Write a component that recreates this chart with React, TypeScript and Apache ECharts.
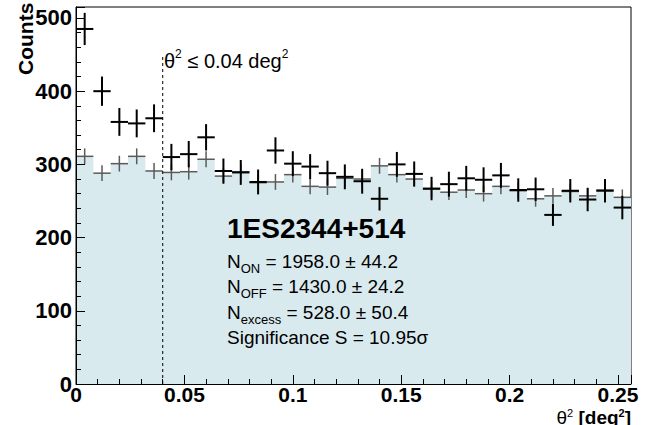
import React, { useEffect, useRef } from "react";
import * as echarts from "echarts";

// ---- data ----
const binCenters = [
  0.004, 0.012, 0.020, 0.028, 0.036, 0.044, 0.052, 0.060, 0.068, 0.076, 0.084,
  0.092, 0.100, 0.108, 0.116, 0.124, 0.132, 0.140, 0.148, 0.156, 0.164, 0.172,
  0.180, 0.188, 0.196, 0.204, 0.212, 0.220, 0.228, 0.236, 0.244, 0.252,
];
const binHalfWidth = 0.004;
const onCounts = [
  485, 400, 358, 356, 363, 310, 314, 337, 291, 289, 276, 319, 301, 297, 288, 283,
  277, 253, 300, 287, 267, 273, 281, 279, 285, 265, 266, 231, 264, 252, 264, 241,
];
const onErrors = [
  22, 20, 19, 19, 19, 18, 18, 18, 17, 17, 17, 18, 17, 17, 17, 17,
  17, 16, 17, 17, 16, 17, 17, 17, 17, 16, 16, 15, 16, 16, 16, 16,
];
const offCounts = [
  311, 288, 301, 311, 291, 289, 290, 307, 284, 290, 275, 276, 286, 270, 269, 281,
  280, 298, 286, 280, 266, 262, 265, 260, 270, 264, 253, 257, 263, 257, 265, 255,
];
const offErrors = [
  10.8, 10.8, 10.8, 10.8, 10.8, 10.8, 10.8, 10.8, 10.8, 10.8, 10.8, 10.8, 10.8, 10.8, 10.8, 10.8,
  10.8, 10.8, 10.8, 10.8, 10.8, 10.8, 10.8, 10.8, 10.8, 10.8, 10.8, 10.8, 10.8, 10.8, 10.8, 10.8,
];
const xTickLabels = ["0", "0.05", "0.1", "0.15", "0.2", "0.25"];
const yTickLabels = ["0", "100", "200", "300", "400", "500"];
const cutValue = 0.04;
const cutLineTop = 449;
const sourceName = "1ES2344+514";
const statLines = [
  { sym: "N", sub: "ON", rest: " = 1958.0 ± 44.2" },
  { sym: "N", sub: "OFF", rest: " = 1430.0 ± 24.2" },
  { sym: "N", sub: "excess", rest: " = 528.0 ± 50.4" },
];
const significanceText = "Significance S = 10.95σ";

const TICK_FONT = "'Liberation Sans Narrow', 'Liberation Sans', Arial, sans-serif";
const TEXT_FONT = "'Liberation Sans', Arial, Helvetica, sans-serif";
const FILL = "#d9eaef";

function crossRenderer(color: string, width: number) {
  return (params: any, api: any) => {
    const c = api.value(0);
    const v = api.value(1);
    const e = api.value(2);
    const l = api.coord([c - binHalfWidth, v]);
    const r = api.coord([c + binHalfWidth, v]);
    const t = api.coord([c, v + e]);
    const b = api.coord([c, v - e]);
    return {
      type: "group",
      children: [
        { type: "line", shape: { x1: l[0], y1: l[1], x2: r[0], y2: r[1] }, style: { stroke: color, lineWidth: width } },
        { type: "line", shape: { x1: t[0], y1: t[1], x2: b[0], y2: b[1] }, style: { stroke: color, lineWidth: width } },
      ],
    };
  };
}

export default function App() {
  const ref = useRef<HTMLDivElement>(null);
  useEffect(() => {
    const chart = echarts.init(ref.current!, null, { renderer: "svg" });
    const statsRich = {
      m: { fontFamily: TEXT_FONT, fontSize: 19, lineHeight: 19, color: "#000" },
      s: { fontFamily: TEXT_FONT, fontSize: 13, lineHeight: 13, color: "#000", padding: [14, 0, 0, 0] },
    };
    const statGraphics: any[] = statLines.map((ln, i) => ({
      type: "text",
      x: 227,
      y: 261 + i * 25.5,
      z: 100,
      style: {
        text: `{m|${ln.sym}}{s|${ln.sub}}{m|${ln.rest}}`,
        rich: statsRich,
        verticalAlign: "middle",
        align: "left",
      },
      silent: true,
    }));
    const option: any = {
      animation: false,
      grid: { left: 76, top: 7, width: 555, height: 377, show: true, borderColor: "#000", borderWidth: 1, backgroundColor: "transparent" },
      xAxis: {
        type: "value",
        min: 0,
        max: 0.256,
        interval: 0.05,
        z: 10,
        axisLine: { show: true, onZero: false, lineStyle: { color: "#000", width: 1 } },
        axisTick: { show: true, inside: true, length: 9, lineStyle: { color: "#000", width: 1 } },
        minorTick: { show: true, splitNumber: 5, length: 5, lineStyle: { color: "#000", width: 1 } },
        splitLine: { show: false },
        axisLabel: {
          color: "#000",
          fontFamily: TICK_FONT,
          fontWeight: "bold",
          fontSize: 21,
          lineHeight: 14,
          margin: 3,
          showMaxLabel: false,
          formatter: (v: number) => {
            const idx = Math.round(v / 0.05);
            return Math.abs(v - idx * 0.05) < 1e-9 ? xTickLabels[idx] ?? "" : "";
          },
        },
      },
      yAxis: {
        type: "value",
        min: 0,
        max: 515,
        interval: 100,
        z: 10,
        axisLine: { show: true, onZero: false, lineStyle: { color: "#000", width: 1 } },
        axisTick: { show: true, inside: true, length: 9, lineStyle: { color: "#000", width: 1 } },
        minorTick: { show: true, splitNumber: 5, length: 5, lineStyle: { color: "#000", width: 1 } },
        splitLine: { show: false },
        axisLabel: {
          color: "#000",
          fontFamily: TICK_FONT,
          fontWeight: "bold",
          fontSize: 22,
          margin: 4,
          showMaxLabel: false,
          formatter: (v: number) => {
            const idx = Math.round(v / 100);
            return Math.abs(v - idx * 100) < 1e-9 ? yTickLabels[idx] ?? "" : "";
          },
        },
      },
      series: [
        {
          type: "custom",
          name: "OFF fill",
          silent: true,
          clip: true,
          data: [[0, 0]],
          encode: { x: 0, y: 1 },
          renderItem: (params: any, api: any) => {
            const pts: number[][] = [api.coord([binCenters[0] - binHalfWidth, 0])];
            binCenters.forEach((c, i) => {
              pts.push(api.coord([c - binHalfWidth, offCounts[i]]));
              pts.push(api.coord([c + binHalfWidth, offCounts[i]]));
            });
            pts.push(api.coord([binCenters[binCenters.length - 1] + binHalfWidth, 0]));
            return {
              type: "polygon",
              shape: { points: pts },
              style: { fill: FILL },
            };
          },
          z: 1,
        },
        {
          type: "custom",
          name: "OFF",
          silent: true,
          clip: true,
          data: binCenters.map((c, i) => [c, offCounts[i], offErrors[i]]),
          encode: { x: 0, y: 1 },
          renderItem: crossRenderer("#5a5a5a", 1.5),
          z: 2,
        },
        {
          type: "line",
          name: "cut",
          silent: true,
          showSymbol: false,
          data: [
            [cutValue, 0],
            [cutValue, cutLineTop],
          ],
          lineStyle: { color: "#000", width: 1, type: [3, 3] },
          z: 3,
        },
        {
          type: "custom",
          name: "ON",
          silent: true,
          clip: true,
          data: binCenters.map((c, i) => [c, onCounts[i], onErrors[i]]),
          encode: { x: 0, y: 1 },
          renderItem: crossRenderer("#000", 2),
          z: 4,
        },
      ],
      graphic: [
        {
          type: "text",
          x: 25,
          y: 75,
          z: 100,
          rotation: Math.PI / 2,
          style: { text: "Counts", fontFamily: TEXT_FONT, fontWeight: "bold", fontSize: 21, fill: "#000", align: "left", verticalAlign: "middle" },
          silent: true,
        },
        {
          type: "text",
          x: 631,
          y: 417,
          z: 100,
          style: {
            text: "{t|θ}{sp|2}{t| }{b|[deg}{sb|2}{b|]}",
            align: "right",
            verticalAlign: "middle",
            rich: {
              t: { fontFamily: TEXT_FONT, fontSize: 19, lineHeight: 16, color: "#000" },
              b: { fontFamily: TEXT_FONT, fontSize: 19, fontWeight: "bold", lineHeight: 16, color: "#000" },
              sp: { fontFamily: TEXT_FONT, fontSize: 11, lineHeight: 9, color: "#000", padding: [0, 0, 9, 0] },
              sb: { fontFamily: TEXT_FONT, fontSize: 11, fontWeight: "bold", lineHeight: 9, color: "#000", padding: [0, 0, 9, 0] },
            },
          },
          silent: true,
        },
        {
          type: "text",
          x: 164,
          y: 61,
          z: 100,
          style: {
            text: "{t|θ}{sp|2}{t| ≤ 0.04 deg}{sp|2}",
            align: "left",
            verticalAlign: "middle",
            rich: {
              t: { fontFamily: TEXT_FONT, fontSize: 20, lineHeight: 20, color: "#000" },
              sp: { fontFamily: TEXT_FONT, fontSize: 12, lineHeight: 12, color: "#000", padding: [0, 0, 14, 0] },
            },
          },
          silent: true,
        },
        {
          type: "text",
          x: 227,
          y: 228,
          z: 100,
          style: { text: sourceName, fontFamily: TEXT_FONT, fontWeight: "bold", fontSize: 28, fill: "#000", align: "left", verticalAlign: "middle" },
          silent: true,
        },
        ...statGraphics,
        {
          type: "text",
          x: 227,
          y: 337.5,
          z: 100,
          style: { text: significanceText, fontFamily: TEXT_FONT, fontSize: 19, fill: "#000", align: "left", verticalAlign: "middle" },
          silent: true,
        },
      ],
    };
    chart.setOption(option);
    return () => chart.dispose();
  }, []);
  return (
    <div
      ref={ref}
      style={{ position: "absolute", left: 0, top: 0, width: 657, height: 425, background: "#fff" }}
    />
  );
}
